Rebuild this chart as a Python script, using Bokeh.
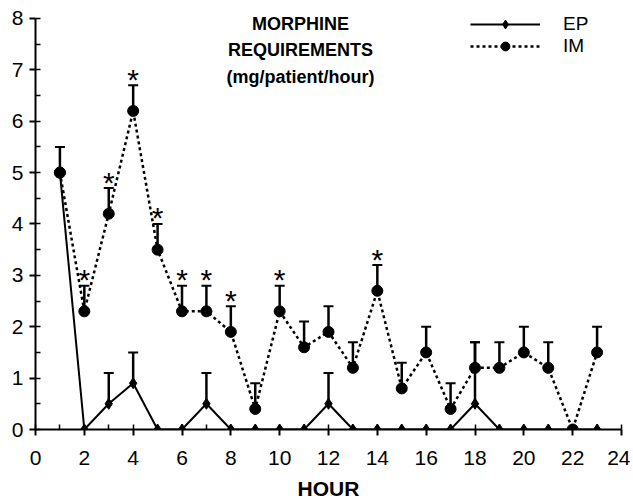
from bokeh.plotting import figure
from bokeh.models import (ColumnDataSource, Whisker, TeeHead, Legend, LegendItem,
                          SingleIntervalTicker, Label, Range1d)
from bokeh.core.properties import value
from bokeh.embed import file_html
from bokeh.resources import INLINE

hours = list(range(1, 24))
ep = [5.0, 0, 0.5, 0.9, 0, 0, 0.5, 0, 0, 0, 0, 0.5, 0, 0, 0, 0, 0, 0.5, 0, 0, 0, 0, 0]
im = [5.0, 2.3, 4.2, 6.2, 3.5, 2.3, 2.3, 1.9, 0.4, 2.3, 1.6, 1.9, 1.2, 2.7, 0.8, 1.5,
      0.4, 1.2, 1.2, 1.5, 1.2, 0.0, 1.5]
ep_err_hours = [1, 3, 4, 7, 12, 18]
ep_err_low = [5.0, 0.5, 0.9, 0.5, 0.5, 0.5]
ep_err_high = [5.5, 1.1, 1.5, 1.1, 1.1, 1.7]
im_err_hours = [2, 3, 4, 5, 6, 7, 8, 9, 10, 11, 12, 13, 14, 15, 16, 17, 18, 19, 20, 21, 23]
im_err_low = [2.3, 4.2, 6.2, 3.5, 2.3, 2.3, 1.9, 0.4, 2.3, 1.6, 1.9, 1.2, 2.7, 0.8, 1.5,
              0.4, 1.2, 1.2, 1.5, 1.2, 1.5]
im_err_high = [2.8, 4.7, 6.7, 4.0, 2.8, 2.8, 2.4, 0.9, 2.8, 2.1, 2.4, 1.7, 3.2, 1.3, 2.0,
               0.9, 1.7, 1.7, 2.0, 1.7, 2.0]
star_hours = [2, 3, 4, 5, 6, 7, 8, 10, 14]
star_base = [2.8, 4.7, 6.7, 4.0, 2.8, 2.8, 2.4, 2.8, 3.2]
title_lines = ["MORPHINE", "REQUIREMENTS", "(mg/patient/hour)"]

FONT = "Liberation Sans"

p = figure(width=630, height=504, output_backend="svg", toolbar_location=None,
           x_range=Range1d(0, 24), y_range=Range1d(0, 8.35),
           min_border_left=35, min_border_right=9, min_border_top=0, min_border_bottom=75)
p.outline_line_color = None
p.grid.visible = False
p.background_fill_color = "white"

for ax in (p.xaxis[0], p.yaxis[0]):
    ax.axis_line_width = 2
    ax.axis_line_color = "black"
    ax.major_tick_line_width = 2
    ax.minor_tick_line_width = 1.5
    ax.major_tick_out = 6
    ax.major_tick_in = 0
    ax.minor_tick_in = 5
    ax.minor_tick_out = 0
    ax.major_label_text_font = FONT
    ax.major_label_text_font_size = "21px"
    ax.major_label_text_color = "black"

p.yaxis[0].bounds = (0, 8)
p.xaxis[0].ticker = SingleIntervalTicker(interval=2, num_minor_ticks=2)
p.yaxis[0].ticker = SingleIntervalTicker(interval=1, num_minor_ticks=2)
p.xaxis[0].major_label_standoff = 15
p.yaxis[0].major_label_standoff = 6
p.xaxis[0].axis_label = "HOUR"
p.xaxis[0].axis_label_text_font = FONT
p.xaxis[0].axis_label_text_font_style = "bold"
p.xaxis[0].axis_label_text_font_size = "21px"
p.xaxis[0].axis_label_standoff = 9
p.xaxis[0].axis_label_text_color = "black"

src = ColumnDataSource(dict(h=hours, ep=ep, im=im))
im_line = p.line("h", "im", source=src, line_color="black", line_width=2.5, line_dash="3 3")
ep_line = p.line("h", "ep", source=src, line_color="black", line_width=2)

ep_es = ColumnDataSource(dict(h=ep_err_hours, lo=ep_err_low, hi=ep_err_high))
im_es = ColumnDataSource(dict(h=im_err_hours, lo=im_err_low, hi=im_err_high))
for s in (ep_es, im_es):
    p.add_layout(Whisker(base="h", lower="lo", upper="hi", source=s, line_width=2.5,
                         upper_head=TeeHead(size=10, line_width=2), lower_head=None))

ep_pts = p.scatter("h", "ep", source=src, marker="diamond", size=11, color="black")
im_pts = p.scatter("h", "im", source=src, marker="circle", size=11, color="black")
p.scatter([1], [5.0], marker="circle", size=11, color="black")

p.text(x=star_hours, y=star_base, text=["*"] * len(star_hours), text_font=value(FONT),
       text_font_size="30px", text_align="center", text_baseline="alphabetic",
       y_offset=-6, text_color="black")

for txt, yy in zip(title_lines, [7.90, 7.38, 6.87]):
    p.add_layout(Label(x=10.85, y=yy, text=txt, text_font=FONT, text_font_size="18px",
                       text_font_style="bold", text_align="center",
                       text_baseline="middle", text_color="black"))

legend = Legend(items=[LegendItem(label="EP", renderers=[ep_line, ep_pts]),
                       LegendItem(label="IM", renderers=[im_line, im_pts])],
                location=(435, 372), padding=0, spacing=0, margin=0,
                glyph_width=70, glyph_height=22, label_height=22, label_standoff=23,
                label_text_font=FONT, label_text_font_size="19px",
                label_text_color="black",
                border_line_color=None, background_fill_alpha=0)
p.add_layout(legend)

open("out.html", "w").write(file_html(p, INLINE))
